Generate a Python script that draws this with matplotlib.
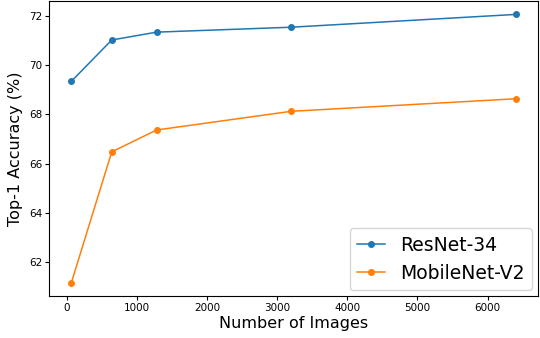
import matplotlib
matplotlib.use("Agg")
import matplotlib.pyplot as plt

# number of training images
num_images = [64, 640, 1280, 3200, 6400]

# top-1 accuracy (%)
resnet34 = [69.35, 71.03, 71.35, 71.55, 72.07]
mobilenet_v2 = [61.16, 66.48, 67.37, 68.13, 68.64]

fig = plt.figure(figsize=(5.4, 3.38), dpi=100)
ax = fig.add_axes([0.091, 0.124, 0.905, 0.873])

ax.plot(num_images, resnet34, marker="o", markersize=4, linewidth=1.1, label="ResNet-34")
ax.plot(num_images, mobilenet_v2, marker="o", markersize=4, linewidth=1.1, label="MobileNet-V2")

ax.set_xlabel("Number of Images", fontsize=11.5, labelpad=2)
ax.set_ylabel("Top-1 Accuracy (%)", fontsize=11.5, labelpad=4)
ax.tick_params(labelsize=7.5, length=3, pad=2)
ax.set_xticks([0, 1000, 2000, 3000, 4000, 5000, 6000])
ax.set_yticks([62, 64, 66, 68, 70, 72])

ax.legend(loc="lower right", fontsize=13.5, handlelength=1.5, borderaxespad=0.3)

fig.savefig("out.png", dpi=100)
